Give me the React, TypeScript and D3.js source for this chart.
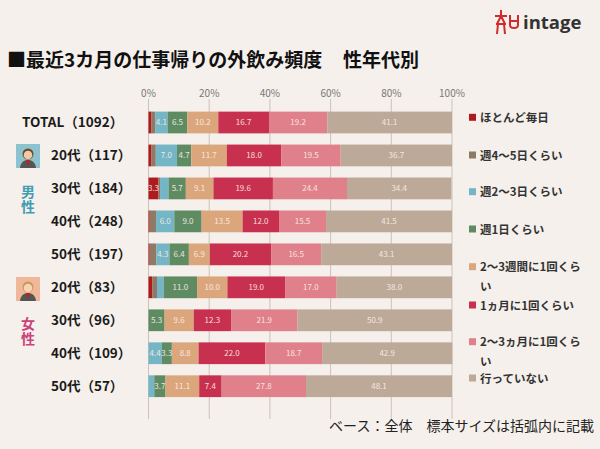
import React, { useEffect, useRef } from 'react';
import * as d3 from 'd3';

const categories = [
  'ほとんど毎日',
  '週4～5日くらい',
  '週2～3日くらい',
  '週1日くらい',
  '2～3週間に1回くらい',
  '1ヵ月に1回くらい',
  '2～3ヵ月に1回くらい',
  '行っていない',
];

const legendLines = [
  ['ほとんど毎日'],
  ['週4～5日くらい'],
  ['週2～3日くらい'],
  ['週1日くらい'],
  ['2～3週間に1回くら', 'い'],
  ['1ヵ月に1回くらい'],
  ['2～3ヵ月に1回くら', 'い'],
  ['行っていない'],
];

const colors = ['#ad1b1f', '#8f7a66', '#74b5c6', '#5f8b63', '#dca67d', '#c8304f', '#e0808a', '#bda998'];

const rowLabels = [
  'TOTAL（1092）',
  '20代（117）',
  '30代（184）',
  '40代（248）',
  '50代（197）',
  '20代（83）',
  '30代（96）',
  '40代（109）',
  '50代（57）',
];

const totalRow = [1.0, 1.2, 4.1, 6.5, 10.2, 16.7, 19.2, 41.1];
const male20 = [1.0, 1.4, 7.0, 4.7, 11.7, 18.0, 19.5, 36.7];
const male30 = [3.3, 0.5, 2.8, 5.7, 9.1, 19.6, 24.4, 34.4];
const male40 = [0.4, 2.1, 6.0, 9.0, 13.5, 12.0, 15.5, 41.5];
const male50 = [0.4, 2.2, 4.3, 6.4, 6.9, 20.2, 16.5, 43.1];
const female20 = [1.2, 1.6, 2.2, 11.0, 10.0, 19.0, 17.0, 38.0];
const female30 = [0, 0, 0, 5.3, 9.6, 12.3, 21.9, 50.9];
const female40 = [0, 0, 4.4, 3.3, 8.8, 22.0, 18.7, 42.9];
const female50 = [0, 0, 1.9, 3.7, 11.1, 7.4, 27.8, 48.1];

const rowValues = [totalRow, male20, male30, male40, male50, female20, female30, female40, female50];

const ticks = [0, 20, 40, 60, 80, 100];

const W = 600;
const H = 449;
const FONT = '"Noto Sans CJK JP", "Noto Sans", sans-serif';

const App: React.FC = () => {
  const ref = useRef<SVGSVGElement | null>(null);

  useEffect(() => {
    if (!ref.current) return;
    document.body.style.margin = '0';
    const svg = d3.select(ref.current);
    svg.selectAll('*').remove();

    svg.append('rect').attr('width', W).attr('height', H).attr('fill', '#f5f0eb');

    const x = d3.scaleLinear().domain([0, 100]).range([148.5, 452]);
    const y = d3.scaleBand<string>()
      .domain(rowLabels.map((_, i) => String(i)))
      .range([106, 402.7])
      .paddingInner(0.34)
      .paddingOuter(0.17);

    // gridlines
    svg.append('g')
      .selectAll('line')
      .data(ticks)
      .enter()
      .append('line')
      .attr('x1', d => x(d))
      .attr('x2', d => x(d))
      .attr('y1', 99)
      .attr('y2', 419)
      .attr('stroke', '#cbc3bb')
      .attr('stroke-width', 1);

    // axis labels
    svg.append('g')
      .selectAll('text')
      .data(ticks)
      .enter()
      .append('text')
      .attr('x', d => x(d))
      .attr('y', 97)
      .attr('text-anchor', 'middle')
      .style('font-family', FONT)
      .style('font-size', '10px')
      .style('fill', '#777')
      .text(d => `${d}%`);

    // bars
    const rows = svg.append('g');
    rowValues.forEach((vals, ri) => {
      const stacked: { start: number; v: number; k: number }[] = [];
      let acc = 0;
      vals.forEach((v, k) => {
        stacked.push({ start: acc, v, k });
        acc += v;
      });
      const g = rows.append('g');
      const yy = y(String(ri))!;
      g.selectAll('rect')
        .data(stacked.filter(d => d.v > 0))
        .enter()
        .append('rect')
        .attr('x', d => x(d.start))
        .attr('y', yy)
        .attr('width', d => x(d.start + d.v) - x(d.start))
        .attr('height', y.bandwidth())
        .attr('fill', d => colors[d.k]);
      g.selectAll('text')
        .data(stacked.filter(d => d.v >= 3))
        .enter()
        .append('text')
        .attr('x', d => x(d.start + d.v / 2))
        .attr('y', yy + y.bandwidth() / 2 + 3)
        .attr('text-anchor', 'middle')
        .style('font-family', FONT)
        .style('font-size', '8px')
        .style('fill', '#fbeee8')
        .style('opacity', 0.9)
        .text(d => d.v.toFixed(1));
    });

    // row labels
    svg.append('g')
      .selectAll('text')
      .data(rowLabels)
      .enter()
      .append('text')
      .attr('x', (_, i) => (i === 0 ? 22 : 51))
      .attr('y', (_, i) => y(String(i))! + y.bandwidth() / 2 + 5)
      .style('font-family', FONT)
      .style('font-size', '13.5px')
      .style('font-weight', 'bold')
      .style('fill', '#1a1a1a')
      .text(d => d);

    // gender icons
    const icon = (yy: number, bg: string, hair: string, face: string) => {
      const g = svg.append('g').attr('transform', `translate(16,${yy})`);
      g.append('rect').attr('width', 24).attr('height', 24).attr('fill', bg);
      g.append('path').attr('d', 'M4,24 Q5,16 12,16 Q19,16 20,24 Z').attr('fill', '#555');
      g.append('path').attr('d', 'M10,16 L12,22 L14,16 Z').attr('fill', '#b22');
      g.append('circle').attr('cx', 12).attr('cy', 10).attr('r', 5.5).attr('fill', hair);
      g.append('circle').attr('cx', 12).attr('cy', 11).attr('r', 4.3).attr('fill', face);
    };
    icon(144, '#8cc3cf', '#6a4a2a', '#f1c9a5');
    icon(277, '#f0b79a', '#c89a55', '#f5d3b5');

    // vertical gender labels
    const vText = (label: string, yy: number, color: string) => {
      svg.append('text')
        .attr('x', 28)
        .attr('y', yy)
        .style('writing-mode', 'vertical-rl')
        .style('font-family', FONT)
        .style('font-size', '14px')
        .style('font-weight', 'bold')
        .style('letter-spacing', '1px')
        .style('fill', color)
        .text(label);
    };
    vText('男性', 185, '#3f9db0');
    vText('女性', 317, '#c9427a');

    // legend
    const legendY = [117.3, 155, 191.7, 229, 266.7, 305, 341.7, 378];
    const lg = svg.append('g');
    categories.forEach((_, i) => {
      lg.append('rect')
        .attr('x', 469)
        .attr('y', legendY[i] - 3.5)
        .attr('width', 7)
        .attr('height', 7)
        .attr('fill', colors[i]);
      legendLines[i].forEach((line, j) => {
        lg.append('text')
          .attr('x', 480)
          .attr('y', legendY[i] + 4.5 + j * 20)
          .style('font-family', FONT)
          .style('font-size', '11.5px')
          .style('font-weight', 'bold')
          .style('fill', '#333')
          .text(line);
      });
    });

    // title
    svg.append('text')
      .attr('x', 7)
      .attr('y', 67)
      .style('font-family', FONT)
      .style('font-size', '19px')
      .style('font-weight', 'bold')
      .style('fill', '#111')
      .text('■最近3カ月の仕事帰りの外飲み頻度');
    svg.append('text')
      .attr('x', 343)
      .attr('y', 67)
      .style('font-family', FONT)
      .style('font-size', '19px')
      .style('font-weight', 'bold')
      .style('fill', '#111')
      .text('性年代別');

    // footnote
    svg.append('text')
      .attr('x', 594)
      .attr('y', 431)
      .attr('text-anchor', 'end')
      .style('font-family', FONT)
      .style('font-size', '14px')
      .style('fill', '#222')
      .text('ベース：全体　標本サイズは括弧内に記載');

    // logo
    const logo = svg.append('g').attr('transform', 'translate(492,8)');
    logo.append('path')
      .attr('d', 'M9,2 L9,8 M3,8 L15,8 M9,8 L5,16 M9,8 L13,16 M4,16 L14,16 M6,16 L5,26 M12,16 L13,26 M18,7 L18,17 Q18,20 22,20 Q26,20 26,17 L26,7 M18,13 L26,13')
      .attr('fill', 'none')
      .attr('stroke', '#d22b2b')
      .attr('stroke-width', 2);
    logo.append('text')
      .attr('x', 31)
      .attr('y', 21)
      .style('font-family', '"Open Sans", "DejaVu Sans", sans-serif')
      .style('font-size', '18.5px')
      .style('font-weight', 'bold')
      .style('fill', '#333')
      .text('intage');
  }, []);

  return (
    <svg ref={ref} width={W} height={H} style={{ position: 'absolute', left: 0, top: 0, display: 'block' }} />
  );
};

export default App;
